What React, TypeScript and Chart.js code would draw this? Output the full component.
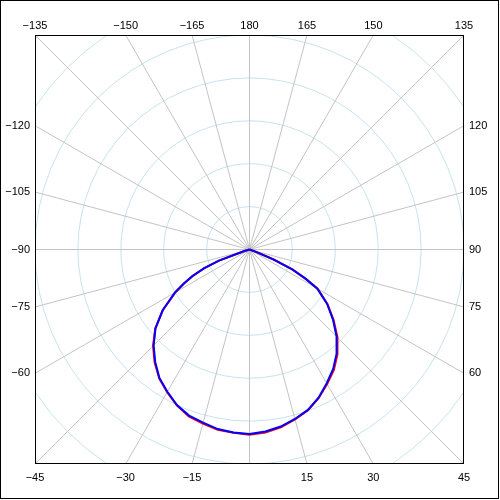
import { useEffect, useRef } from "react";
import { Chart, registerables } from "chart.js";

Chart.register(...registerables);

// Polar angles (deg, 0 = straight down, positive toward the right)
const angles = [-90, -75, -72.5, -70, -67.5, -65, -62.5, -60, -55, -50, -45, -40, -35, -30, -25, -20, -15, -10, -5, 0, 5, 10, 15, 20, 25, 30, 35, 40, 45, 50, 55, 60, 62.5, 65, 67.5, 70, 72.5, 75, 90];
// Intensity (arbitrary units, ring step = 100)
const redValues = [0, 0, 14, 76, 114, 146, 172, 199, 247, 287, 318, 344, 367, 384, 401, 414, 420, 427, 429, 432, 428, 421, 410, 399, 382, 362, 343, 319, 290, 256, 222, 184, 148, 111, 61, 17, 0, 0, 0];
const blueValues = [0, 0, 14, 77, 115, 147, 174, 201, 247, 286, 316, 342, 366, 383, 400, 412, 418, 425, 428, 430, 426, 419, 409, 398, 381, 360, 340, 316, 287, 254, 221, 182, 147, 110, 60, 16, 0, 0, 0];

const ringValues = [100, 200, 300, 400, 500, 600, 700];
const spokeAngles = [-165, -150, -135, -120, -105, -90, -75, -60, -45, -30, -15, 0, 15, 30, 45, 60, 75, 90, 105, 120, 135, 150, 165, 180];
const labelAngles = [-165, -150, -135, -120, -105, -90, -75, -60, -45, -30, -15, 15, 30, 45, 60, 75, 90, 105, 120, 135, 150, 165, 180];

const AXIS_MAX = 500;

function toXY(angs: number[], vals: number[]) {
  return angs.map((a, i) => {
    const t = (a * Math.PI) / 180;
    return { x: vals[i] * Math.sin(t), y: -vals[i] * Math.cos(t) };
  });
}

const fmt = (a: number) => (a < 0 ? "\u2212" + String(-a) : String(a));

const polarGrid = {
  id: "polarGrid",
  beforeDraw(chart: any) {
    const ctx = chart.ctx;
    ctx.save();
    ctx.fillStyle = "#ffffff";
    ctx.fillRect(0, 0, chart.width, chart.height);
    ctx.restore();
  },
  beforeDatasetsDraw(chart: any) {
    const { ctx, chartArea, scales } = chart;
    const xs = scales.x;
    const ys = scales.y;
    const cx = xs.getPixelForValue(0);
    const cy = ys.getPixelForValue(0);
    ctx.save();
    ctx.beginPath();
    ctx.rect(chartArea.left, chartArea.top, chartArea.right - chartArea.left, chartArea.bottom - chartArea.top);
    ctx.clip();
    ctx.lineWidth = 1;
    ctx.strokeStyle = "rgb(198,228,238)";
    ringValues.forEach((v) => {
      const r = xs.getPixelForValue(v) - cx;
      ctx.beginPath();
      ctx.arc(cx, cy, r, 0, Math.PI * 2);
      ctx.stroke();
    });
    ctx.strokeStyle = "rgb(196,196,196)";
    spokeAngles.forEach((a) => {
      const t = (a * Math.PI) / 180;
      const far = 900;
      ctx.beginPath();
      ctx.moveTo(cx, cy);
      ctx.lineTo(xs.getPixelForValue(far * Math.sin(t)), ys.getPixelForValue(-far * Math.cos(t)));
      ctx.stroke();
    });
    ctx.restore();
  },
  afterDraw(chart: any) {
    const { ctx, chartArea, scales } = chart;
    const xs = scales.x;
    const ys = scales.y;
    const cx = xs.getPixelForValue(0);
    const cy = ys.getPixelForValue(0);
    ctx.save();
    ctx.strokeStyle = "#000000";
    ctx.lineWidth = 1;
    ctx.strokeRect(chartArea.left + 0.5, chartArea.top + 0.5, chartArea.right - chartArea.left - 1, chartArea.bottom - chartArea.top - 1);
    ctx.strokeRect(0.5, 0.5, 498, 498);
    ctx.fillStyle = "#000000";
    ctx.font = "11px 'Liberation Sans', Arial, sans-serif";
    const half = (chartArea.right - chartArea.left) / 2;
    labelAngles.forEach((a) => {
      const t = (a * Math.PI) / 180;
      const s = Math.sin(t);
      const c = Math.cos(t);
      if (Math.abs(c) >= Math.abs(s) - 1e-6) {
        const k = half / Math.abs(c);
        const x = cx + k * s;
        ctx.textAlign = "center";
        ctx.textBaseline = "middle";
        if (c < 0) ctx.fillText(fmt(a), x, chartArea.top - 9);
        else ctx.fillText(fmt(a), x, chartArea.bottom + 14);
      } else {
        const k = half / Math.abs(s);
        const y = cy + k * c;
        ctx.textBaseline = "middle";
        if (s < 0) {
          ctx.textAlign = "right";
          ctx.fillText(fmt(a), chartArea.left - 5, y);
        } else {
          ctx.textAlign = "left";
          ctx.fillText(fmt(a), chartArea.right + 5, y);
        }
      }
    });
    ctx.restore();
  },
};

export default function App() {
  const ref = useRef<HTMLCanvasElement | null>(null);
  useEffect(() => {
    if (!ref.current) return;
    const chart = new Chart(ref.current, {
      type: "scatter",
      data: {
        datasets: [
          {
            label: "C90-C270",
            data: toXY(angles, blueValues),
            showLine: true,
            borderColor: "#0000ff",
            borderWidth: 2,
            pointRadius: 0,
            tension: 0,
            order: 0,
          },
          {
            label: "C0-C180",
            data: toXY(angles, redValues),
            showLine: true,
            borderColor: "#ff0000",
            borderWidth: 2,
            pointRadius: 0,
            tension: 0,
            order: 1,
          },
        ],
      },
      options: {
        responsive: false,
        animation: false,
        layout: { padding: { left: 35, top: 35, right: 36, bottom: 36 } },
        plugins: { legend: { display: false }, tooltip: { enabled: false } },
        scales: {
          x: { type: "linear", min: -AXIS_MAX, max: AXIS_MAX, display: false },
          y: { type: "linear", min: -AXIS_MAX, max: AXIS_MAX, display: false },
        },
      },
      plugins: [polarGrid],
    });
    return () => chart.destroy();
  }, []);
  return (
    <div style={{ position: "absolute", left: 0, top: 0, width: 500, height: 500 }}>
      <canvas ref={ref} width={500} height={500} style={{ width: 500, height: 500, display: "block" }} />
    </div>
  );
}
